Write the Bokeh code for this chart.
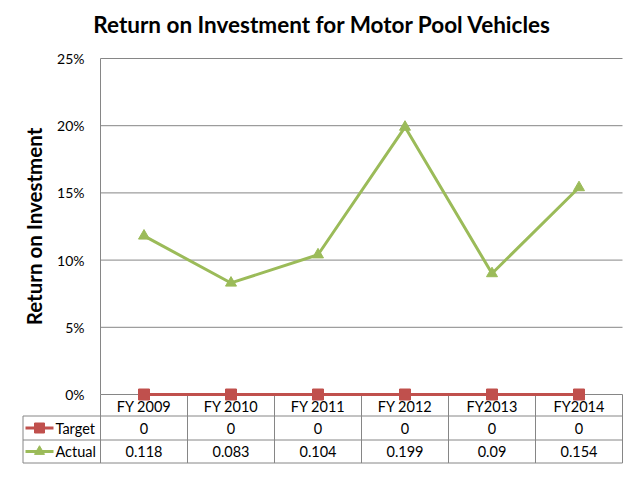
from bokeh.plotting import figure
from bokeh.models import Range1d, FixedTicker, NumeralTickFormatter, ColumnDataSource
from bokeh.core.properties import value
from bokeh.embed import file_html
from bokeh.resources import INLINE

# ---------------- data ----------------
categories = ["FY 2009", "FY 2010", "FY 2011", "FY 2012", "FY2013", "FY2014"]
target = [0, 0, 0, 0, 0, 0]
actual = [0.118, 0.083, 0.104, 0.199, 0.09, 0.154]
y_ticks = [0.0, 0.05, 0.10, 0.15, 0.20, 0.25]
series_names = ["Target", "Actual"]
title_text = "Return on Investment for Motor Pool Vehicles"
y_title = "Return on Investment"

# ---------------- style / geometry (pixels on the canvas) ----------------
RED = "#C0504D"
GREEN = "#9BBB59"
LINE = "#868686"
FONT = "Lato"
W, H = 624, 464
B_LEFT, B_RIGHT, B_TOP, B_BOTTOM = 21, 1, 40, 0
AXIS_X = 100          # canvas x where the category axis starts
CW = 87.0             # pixel width of one category
ZERO_Y = 394          # canvas y of 0 %
TOP_Y = 58            # canvas y of 25 %
YMAX = 0.25
PPU = (ZERO_Y - TOP_Y) / YMAX  # pixels per unit of y


def xd(px):
    return (px - AXIS_X) / CW


def yd(py):
    return (ZERO_Y - py) / PPU


n = len(categories)
xs = [i + 0.5 for i in range(n)]

p = figure(width=W, height=H, output_backend="svg", toolbar_location=None,
           x_range=Range1d(xd(B_LEFT), xd(W - B_RIGHT)),
           y_range=Range1d(yd(H - B_BOTTOM), yd(B_TOP)),
           min_border_left=B_LEFT, min_border_right=B_RIGHT,
           min_border_top=B_TOP, min_border_bottom=B_BOTTOM,
           title=title_text)
p.outline_line_color = None
p.background_fill_color = "white"
p.border_fill_color = "white"
p.xgrid.visible = False
p.ygrid.visible = False
p.xaxis.visible = False

p.title.align = "center"
p.title.text_font = FONT
p.title.text_font_size = "22.5px"
p.title.text_font_style = "bold"
p.title.text_color = "black"
p.title.standoff = 6

ax = p.yaxis[0]
ax.fixed_location = 0
ax.bounds = (0, YMAX)
ax.ticker = FixedTicker(ticks=y_ticks)
ax.formatter = NumeralTickFormatter(format="0%")
ax.major_tick_out = 0
ax.major_tick_in = 0
ax.minor_tick_out = 0
ax.minor_tick_in = 0
ax.axis_line_color = LINE
ax.axis_line_width = 1
ax.major_label_standoff = 16
ax.major_label_text_font = FONT
ax.major_label_text_font_size = "14px"
ax.major_label_text_color = "black"
ax.axis_label = y_title
ax.axis_label_text_font = FONT
ax.axis_label_text_font_size = "20.5px"
ax.axis_label_text_font_style = "bold"
ax.axis_label_text_color = "black"
ax.axis_label_standoff = 8

# gridlines across the plot area only
p.segment(x0=[0] * len(y_ticks), x1=[n] * len(y_ticks), y0=y_ticks, y1=y_ticks,
          line_color=LINE, line_width=1)

# ---------------- data table below ----------------
row_lines = [415.5, 439.5, 462.5]
left_edge = 22.5
p.segment(x0=[xd(left_edge)] * 3, x1=[n] * 3,
          y0=[yd(r) for r in row_lines], y1=[yd(r) for r in row_lines],
          line_color=LINE, line_width=1)
p.segment(x0=list(range(n + 1)), x1=list(range(n + 1)),
          y0=[yd(row_lines[-1])] * (n + 1), y1=[0] * (n + 1),
          line_color=LINE, line_width=1)
p.segment(x0=[xd(left_edge)], x1=[xd(left_edge)],
          y0=[yd(row_lines[0])], y1=[yd(row_lines[-1])],
          line_color=LINE, line_width=1)

cat_y = yd((ZERO_Y + row_lines[0]) / 2 + 1)
tgt_y = yd((row_lines[0] + row_lines[1]) / 2)
act_y = yd((row_lines[1] + row_lines[2]) / 2)

txt = dict(text_font=value(FONT), text_font_size="14.5px", text_color="black",
           text_align="center", text_baseline="middle")
p.text(x=xs, y=[cat_y] * n, text=categories, **txt)
p.text(x=xs, y=[tgt_y] * n, text=[f"{v:g}" for v in target], **txt)
p.text(x=xs, y=[act_y] * n, text=[f"{v:g}" for v in actual], **txt)

# legend keys in the table's first column
kx0, kx1, kxm, kt = xd(25), xd(53), xd(39), xd(55)
p.line(x=[kx0, kx1], y=[tgt_y, tgt_y], line_color=RED, line_width=3)
p.scatter(x=[kxm], y=[tgt_y], marker="square", size=10, fill_color=RED, line_color=RED)
p.line(x=[kx0, kx1], y=[act_y, act_y], line_color=GREEN, line_width=3)
p.scatter(x=[kxm], y=[act_y], marker="triangle", size=10, fill_color=GREEN, line_color=GREEN)
p.text(x=[kt, kt], y=[tgt_y, act_y], text=series_names,
       text_font=value(FONT), text_font_size="14.5px", text_color="black",
       text_align="left", text_baseline="middle")

# ---------------- series ----------------
src = ColumnDataSource(dict(x=xs, target=target, actual=actual))
p.line("x", "actual", source=src, line_color=GREEN, line_width=3)
p.scatter("x", "actual", source=src, marker="triangle", size=11,
          fill_color=GREEN, line_color=GREEN)
p.line("x", "target", source=src, line_color=RED, line_width=3)
p.scatter("x", "target", source=src, marker="square", size=11,
          fill_color=RED, line_color=RED)

open("out.html", "w").write(file_html(p, INLINE))
